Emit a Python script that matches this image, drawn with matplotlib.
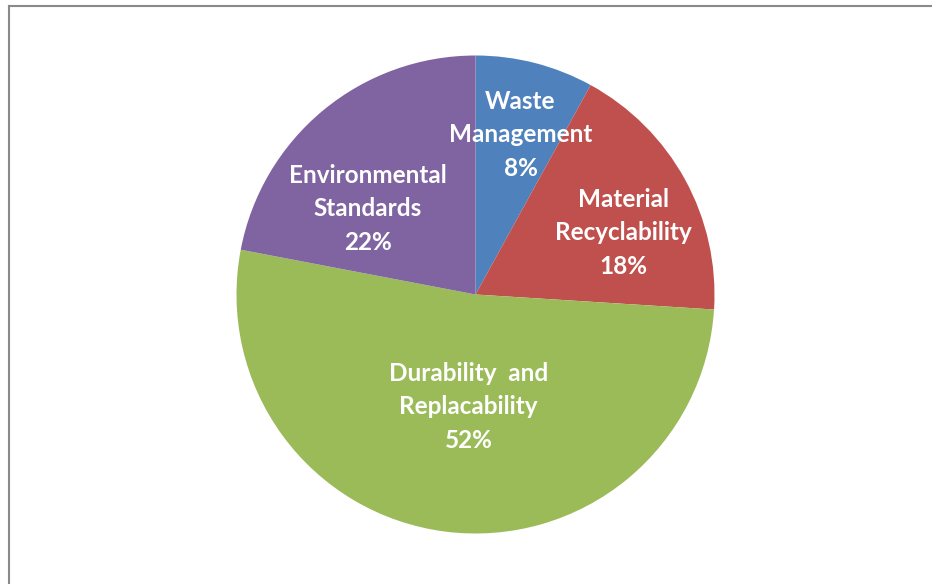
import numpy as np
import matplotlib
matplotlib.use("Agg")
import matplotlib.pyplot as plt
from matplotlib.lines import Line2D

categories = ["Waste\nManagement", "Material\nRecyclability", "Durability  and\nReplacability", "Environmental\nStandards"]
shares = [8, 18, 52, 22]
colors = ["#4F81BD", "#C0504D", "#9BBB59", "#8064A2"]
# label placement: (distance from centre as fraction of radius, angle in degrees)
label_pos = [(0.695, 74.3), (0.67, 22.7), (0.47, -93.5), (0.575, 141.5)]

W, H = 932, 584
fig = plt.figure(figsize=(W / 100, H / 100), dpi=100)
fig.patch.set_facecolor("white")

cx, cy, r = 475.5, 294.5, 239
ax = fig.add_axes([(cx - r) / W, (H - cy - r) / H, 2 * r / W, 2 * r / H])
ax.pie(shares, colors=colors, startangle=90, counterclock=False,
       wedgeprops=dict(linewidth=0), radius=1)
ax.set_xlim(-1, 1)
ax.set_ylim(-1, 1)

for name, val, (d, a) in zip(categories, shares, label_pos):
    x = d * np.cos(np.radians(a))
    y = d * np.sin(np.radians(a))
    ax.text(x, y, f"{name}\n{val}%", ha="center", va="center", color="white",
            fontsize=17.5, fontweight="bold", family=["Lato", "DejaVu Sans"],
            linespacing=1.55)

# chart frame (left and top edges visible)
fig.add_artist(Line2D([8.5 / W, 8.5 / W], [0, 1 - 5.5 / H], transform=fig.transFigure,
                      color="#8a8a8a", lw=1.5))
fig.add_artist(Line2D([8.5 / W, 1], [1 - 5.5 / H, 1 - 5.5 / H], transform=fig.transFigure,
                      color="#8a8a8a", lw=1.5))

fig.savefig("out.png", dpi=100)
